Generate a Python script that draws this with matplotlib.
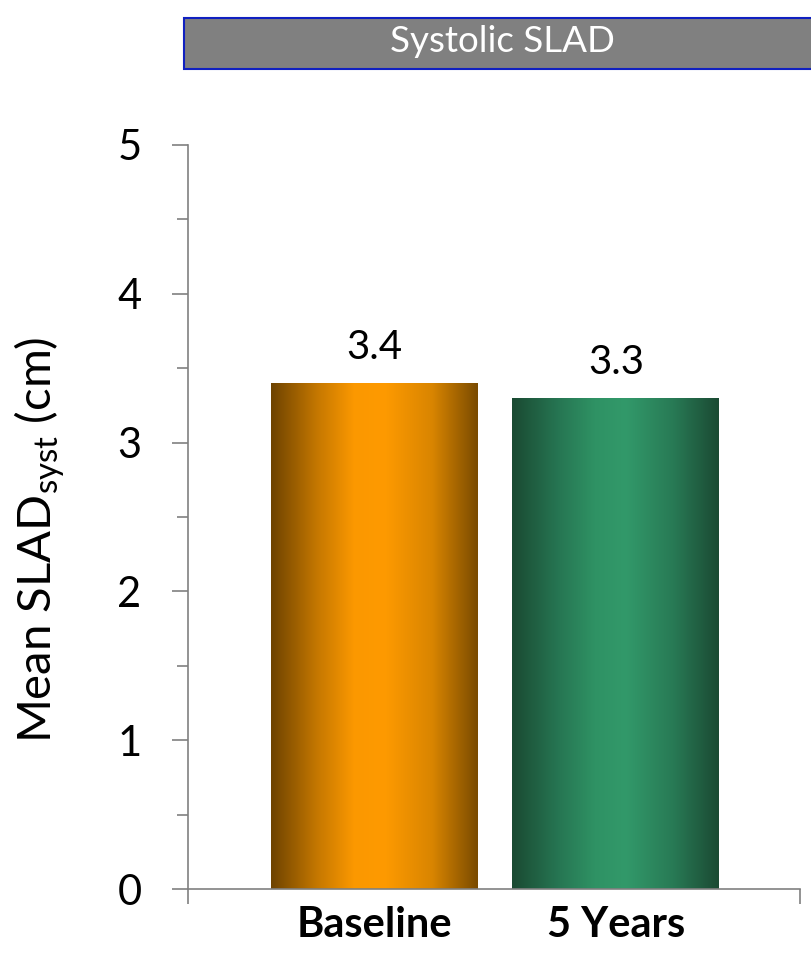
import numpy as np
import matplotlib
matplotlib.use("Agg")
import matplotlib.pyplot as plt
from matplotlib.colors import LinearSegmentedColormap
from matplotlib.patches import Rectangle

# chart values
categories = ["Baseline", "5 Years"]
means = [3.4, 3.3]
value_labels = ["3.4", "3.3"]
panel_title = "Systolic SLAD"
y_label = "Mean SLAD$_{\\mathregular{syst}}$ (cm)"

# shaded bar fills: dark edges, bright middle
bar_shades = [
    ["#6e4300", "#c47700", "#fb9800", "#fe9a00", "#d98500", "#7a4b00"],
    ["#1a4a32", "#267552", "#2f9264", "#32996a", "#287a55", "#1b4a33"],
]
shade_stops = [0.0, 0.22, 0.40, 0.55, 0.78, 1.0]

plt.rcParams["font.family"] = ["Lato", "DejaVu Sans"]

W, H = 812, 955
fig = plt.figure(figsize=(W / 100, H / 100), dpi=100)

# header strip
fig.patches.append(Rectangle((184 / W, 1 - 69 / H), (W - 184) / W + 0.01, 51 / H,
                             transform=fig.transFigure, facecolor="#808080",
                             edgecolor="#1020c0", linewidth=1.5))
fig.text(502 / W, 1 - 52 / H, panel_title, color="white", fontsize=26.5,
         ha="center", va="baseline")

ax = fig.add_axes([188 / W, 66 / H, 612 / W, 744 / H])

x = np.arange(len(categories))
bar_w = 0.857
bars = ax.bar(x, means, width=bar_w, color="none", edgecolor="none", zorder=2)

grad = np.linspace(0, 1, 256).reshape(1, -1)
for patch, shades in zip(bars, bar_shades):
    cmap = LinearSegmentedColormap.from_list("shade", list(zip(shade_stops, shades)))
    x0, y0 = patch.get_x(), patch.get_y()
    img = ax.imshow(grad, cmap=cmap, aspect="auto", zorder=2,
                    extent=[x0, x0 + patch.get_width(), y0, y0 + patch.get_height()])
    img.set_clip_path(patch)

for xi, v, lab in zip(x, means, value_labels):
    ax.annotate(lab, (xi, v), xytext=(0, 17), textcoords="offset points",
                ha="center", va="baseline", fontsize=29)

ax.set_xlim(-0.772, 1.762)
ax.set_ylim(0, 5)

ax.spines["top"].set_visible(False)
ax.spines["right"].set_visible(False)
for s in ("left", "bottom"):
    ax.spines[s].set_color("#808080")
    ax.spines[s].set_linewidth(1.2)

ax.set_yticks(range(6))
ax.set_yticks(np.arange(0.5, 5, 1), minor=True)
ax.tick_params(axis="y", which="major", length=11.5, width=1.2, color="#808080",
               labelsize=30, pad=22)
ax.tick_params(axis="y", which="minor", length=8, width=1.2, color="#808080")

ax.set_xticks(x)
ax.set_xticklabels(categories, fontweight="bold")
ax.set_xticks([-0.772, 1.762], minor=True)
ax.tick_params(axis="x", which="major", length=0, labelsize=30, pad=12)
ax.tick_params(axis="x", which="minor", length=11, width=1.2, color="#808080")

ax.set_ylabel(y_label, fontsize=34)
ax.yaxis.set_label_coords(-0.198, 0.469)

fig.savefig("out.png", dpi=100)
